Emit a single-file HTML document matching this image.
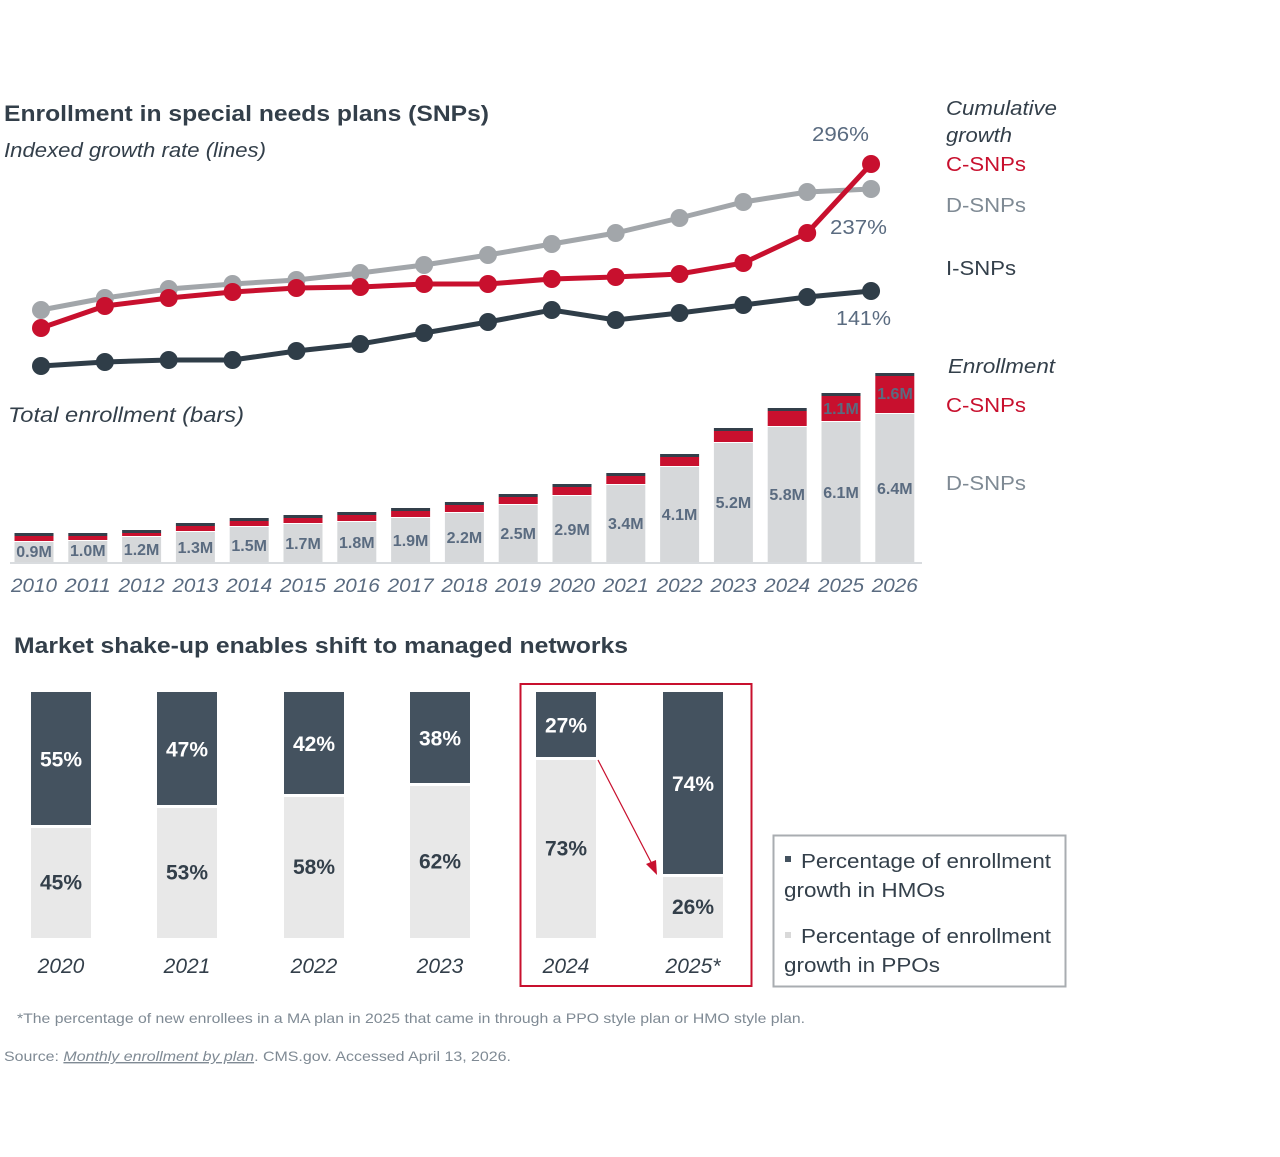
<!DOCTYPE html>
<html><head><meta charset="utf-8"><style>
body{margin:0;background:#fff;}
svg{display:block;font-family:"Liberation Sans",Arial,sans-serif;}
</style></head><body>
<svg width="1280" height="1157" viewBox="0 0 1280 1157">
<text x="4" y="121" font-size="22" font-weight="bold" fill="#333f4a" textLength="485" lengthAdjust="spacingAndGlyphs">Enrollment in special needs plans (SNPs)</text>
<text x="4" y="157" font-size="20" font-style="italic" fill="#333f4a" textLength="262" lengthAdjust="spacingAndGlyphs">Indexed growth rate (lines)</text>
<text x="8" y="422" font-size="21" font-style="italic" fill="#333f4a" textLength="236" lengthAdjust="spacingAndGlyphs">Total enrollment (bars)</text>

<g id="bars"></g>
<line x1="10" y1="563" x2="922" y2="563" stroke="#d9dcdf" stroke-width="2"/>
<g id="lines"></g>

<text x="812" y="141" font-size="20" fill="#5a6b80" textLength="57" lengthAdjust="spacingAndGlyphs">296%</text>
<text x="830" y="234" font-size="20" fill="#5a6b80" textLength="57" lengthAdjust="spacingAndGlyphs">237%</text>
<text x="836" y="325" font-size="20" fill="#5a6b80" textLength="55" lengthAdjust="spacingAndGlyphs">141%</text>

<text x="946" y="115" font-size="20" font-style="italic" fill="#333f4a" textLength="111" lengthAdjust="spacingAndGlyphs">Cumulative</text>
<text x="946" y="142" font-size="20" font-style="italic" fill="#333f4a" textLength="66" lengthAdjust="spacingAndGlyphs">growth</text>
<text x="946" y="171" font-size="20" fill="#c8102e" textLength="80" lengthAdjust="spacingAndGlyphs">C-SNPs</text>
<text x="946" y="212" font-size="20" fill="#7f8a94" textLength="80" lengthAdjust="spacingAndGlyphs">D-SNPs</text>
<text x="946" y="275" font-size="20" fill="#333f4a" textLength="70" lengthAdjust="spacingAndGlyphs">I-SNPs</text>
<text x="948" y="373" font-size="20" font-style="italic" fill="#333f4a" textLength="107" lengthAdjust="spacingAndGlyphs">Enrollment</text>
<text x="946" y="412" font-size="20" fill="#c8102e" textLength="80" lengthAdjust="spacingAndGlyphs">C-SNPs</text>
<text x="946" y="490" font-size="20" fill="#7f8a94" textLength="80" lengthAdjust="spacingAndGlyphs">D-SNPs</text>

<text x="14" y="653" font-size="22" font-weight="bold" fill="#333f4a" textLength="614" lengthAdjust="spacingAndGlyphs">Market shake-up enables shift to managed networks</text>
<g id="bot"></g>
<rect x="520.5" y="684" width="231" height="302" fill="none" stroke="#c8102e" stroke-width="2"/>
<line x1="598" y1="760" x2="653" y2="866" stroke="#c8102e" stroke-width="1.2"/>
<polygon points="657,875 646,864 656,860" fill="#c8102e"/>

<rect x="773.5" y="835.5" width="292" height="151" fill="none" stroke="#a9adb1" stroke-width="2"/>
<rect x="785" y="856" width="6" height="6" fill="#44525f"/>
<text x="801" y="868" font-size="20" fill="#333f4a" textLength="250" lengthAdjust="spacingAndGlyphs">Percentage of enrollment</text>
<text x="784" y="897" font-size="20" fill="#333f4a" textLength="161" lengthAdjust="spacingAndGlyphs">growth in HMOs</text>
<rect x="785" y="932" width="6" height="6" fill="#d9d9d9"/>
<text x="801" y="943" font-size="20" fill="#333f4a" textLength="250" lengthAdjust="spacingAndGlyphs">Percentage of enrollment</text>
<text x="784" y="972" font-size="20" fill="#333f4a" textLength="156" lengthAdjust="spacingAndGlyphs">growth in PPOs</text>

<text x="17" y="1023" font-size="14" fill="#7f8a94" textLength="788" lengthAdjust="spacingAndGlyphs">*The percentage of new enrollees in a MA plan in 2025 that came in through a PPO style plan or HMO style plan.</text>
<text x="4" y="1061" font-size="14" fill="#7f8a94" textLength="507" lengthAdjust="spacingAndGlyphs">Source:  <tspan font-style="italic" text-decoration="underline">Monthly enrollment by plan</tspan>. CMS.gov. Accessed April 13, 2026.</text>
</svg>
<script>
const NS="http://www.w3.org/2000/svg";
function el(p,t,a,txt){const e=document.createElementNS(NS,t);for(const k in a)e.setAttribute(k,a[k]);if(txt!==undefined)e.textContent=txt;p.appendChild(e);return e;}
const bars=document.getElementById('bars');
const tops=[533,533,530,523,518,515,512,508,502,494,484,473,454,428,408,393,373];
const gt=[541,540,536,531,526,523,521,517,512,504,495,484,466,442,426,421,413];
const labs=["0.9M","1.0M","1.2M","1.3M","1.5M","1.7M","1.8M","1.9M","2.2M","2.5M","2.9M","3.4M","4.1M","5.2M","5.8M","6.1M","6.4M"];
const ly=[551,550,549,547,545,543,542,540,537,533,529,523,514,502,494,492,488];
for(let i=0;i<17;i++){const cx=34+i*53.8,x=cx-19.5;
el(bars,'rect',{x:x,y:tops[i],width:39,height:3,fill:'#333f4a'});
el(bars,'rect',{x:x,y:tops[i]+3,width:39,height:gt[i]-tops[i]-3,fill:'#c8102e'});
el(bars,'rect',{x:x,y:gt[i]+1,width:39,height:562-gt[i]-1,fill:'#d6d8da'});
el(bars,'text',{x:cx,y:ly[i]+6,'font-size':16,'font-weight':'bold','text-anchor':'middle',fill:'#5a6b80'},labs[i]);
el(bars,'text',{x:cx,y:592,'font-size':19,'font-style':'italic','text-anchor':'middle',fill:'#5a6b80',textLength:46,lengthAdjust:'spacingAndGlyphs'},String(2010+i));}
el(bars,'text',{x:841,y:414,'font-size':16,'font-weight':'bold','text-anchor':'middle',fill:'#5a6b80'},"1.1M");
el(bars,'text',{x:895,y:399,'font-size':16,'font-weight':'bold','text-anchor':'middle',fill:'#5a6b80'},"1.6M");
const lines=document.getElementById('lines');
const G=[310,298,289,284,280,273,265,255,244,233,218,202,192,189];
const R=[328,306,298,292,288,287,284,284,279,277,274,263,233,164];
const D=[366,362,360,360,351,344,333,322,310,320,313,305,297,291];
[[G,'#a2a6aa'],[R,'#c8102e'],[D,'#2f3d48']].forEach(([ys,c])=>{
const pts=ys.map((y,i)=>(41+i*63.85)+','+y).join(' ');
el(lines,'polyline',{points:pts,fill:'none',stroke:c,'stroke-width':5});
ys.forEach((y,i)=>el(lines,'circle',{cx:41+i*63.85,cy:y,r:9,fill:c}));});
const bot=document.getElementById('bot');
const bx=[31,157,284,410,536,663],db=[825,805,794,783,757,874];
const dl=["55%","47%","42%","38%","27%","74%"],ll=["45%","53%","58%","62%","73%","26%"];
const yrs=["2020","2021","2022","2023","2024","2025*"];
for(let i=0;i<6;i++){const x=bx[i],cx=x+30;
el(bot,'rect',{x:x,y:692,width:60,height:db[i]-692,fill:'#44525f'});
el(bot,'rect',{x:x,y:db[i]+3,width:60,height:938-db[i]-3,fill:'#e8e8e8'});
el(bot,'text',{x:cx,y:(692+db[i])/2+8,'font-size':21,'font-weight':'bold','text-anchor':'middle',fill:'#fff'},dl[i]);
el(bot,'text',{x:cx,y:(db[i]+938)/2+8,'font-size':21,'font-weight':'bold','text-anchor':'middle',fill:'#333f4a'},ll[i]);
el(bot,'text',{x:cx,y:973,'font-size':21,'font-style':'italic','text-anchor':'middle',fill:'#333f4a'},yrs[i]);}
</script>
</body></html>
